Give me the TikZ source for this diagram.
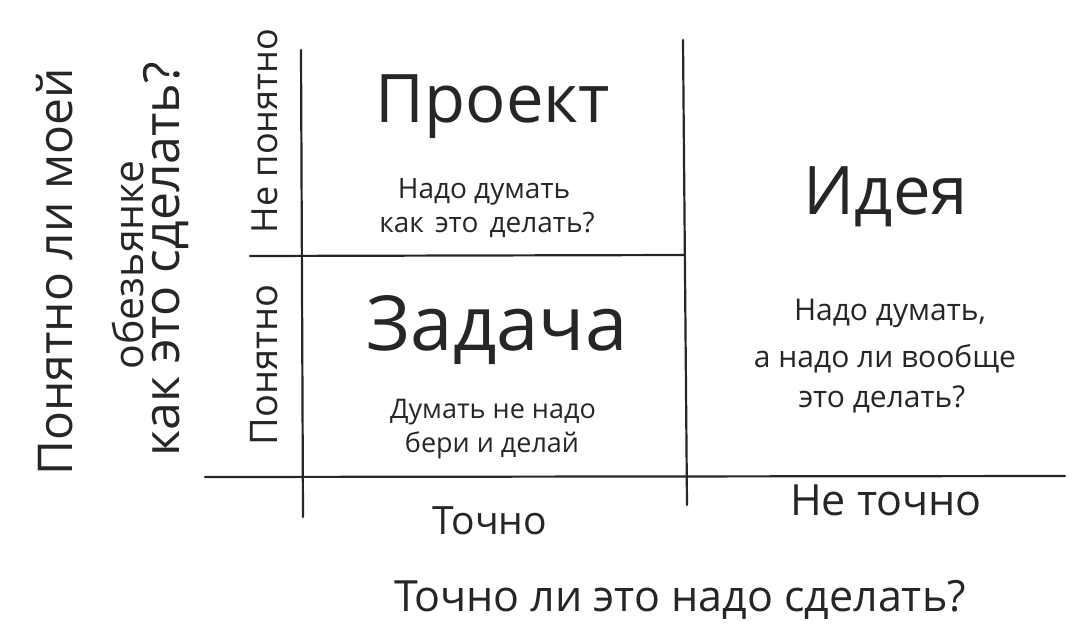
\documentclass[tikz,border=0pt]{standalone}
\usepackage{fontspec}
\setmainfont{Open Sans}
\newcommand{\fsz}[1]{\fontsize{#1}{#1}\selectfont}
\begin{document}
\begin{tikzpicture}[x=1pt,y=-1pt,
  grid/.style={line width=2.2pt, draw=black!85, line cap=round},
  lbl/.style={inner sep=0pt, text=black!85, anchor=base},
  vlbl/.style={lbl, rotate=90},
]
\useasboundingbox (0,0) rectangle (1090,635);
% grid lines
\coordinate (v1t) at (301,50);  \coordinate (v1b) at (303,517);
\coordinate (v2t) at (683,40);  \coordinate (v2b) at (687,505);
\coordinate (h1l) at (250,256); \coordinate (h1r) at (685,255);
\coordinate (h2l) at (205,477); \coordinate (h2r) at (1065,476);
\draw[grid] (v1t) -- (v1b);
\draw[grid] (v2t) -- (v2b);
\draw[grid] (h1l) -- (h1r);
\draw[grid] (h2l) -- (h2r);
% quadrant titles
\node[lbl, font=\fsz{67}] (proekt) at (493,122) {Проект};
\node[lbl, font=\fsz{28}] (p1) at (484,198) {Надо думать};
\node[lbl, font=\fsz{28}] (p2) at (487,232) {как\hspace{4pt} это\hspace{4pt} делать?};
\node[lbl, font=\fsz{76}] (zadacha) at (497,350) {Задача};
\node[lbl, font=\fsz{27}] (z1) at (493,418) {Думать не надо};
\node[lbl, font=\fsz{27}] (z2) at (492,452) {бери и делай};
\node[lbl, font=\fsz{67}] (ideya) at (886,214) {Идея};
\node[lbl, font=\fsz{30}] (i1) at (890,320) {Надо думать,};
\node[lbl, font=\fsz{30}] (i2) at (885,367) {а надо ли вообще};
\node[lbl, font=\fsz{30}] (i3) at (882,407) {это делать?};
% axis labels
\node[lbl, font=\fsz{39}] (tochno) at (490,534) {Точно};
\node[lbl, font=\fsz{43}] (netochno) at (886,515) {Не точно};
\node[lbl, font=\fsz{43}] (xq) at (680,611) {Точно ли это надо сделать?};
\node[vlbl, font=\fsz{38}] (ponyatno) at (277,365) {Понятно};
\node[vlbl, font=\fsz{36}] (neponyatno) at (277,131) {Не понятно};
\node[vlbl, font=\fsz{48}] (yq1) at (72,272) {Понятно ли моей};
\node[vlbl, font=\fsz{41}] (yq2) at (143,265) {обезьянке};
\node[vlbl, font=\fsz{50}] (yq3) at (179,259) {как это сделать?};
\end{tikzpicture}
\end{document}
